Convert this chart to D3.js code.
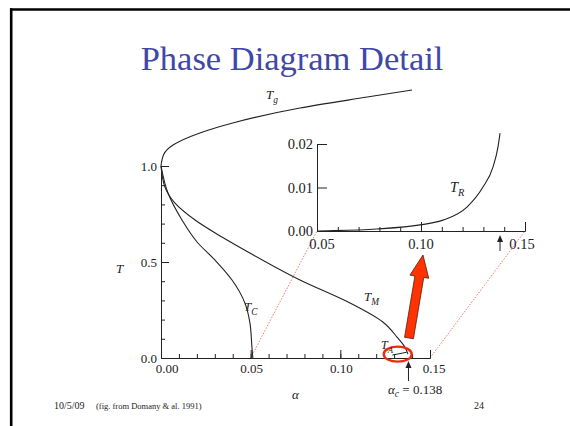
<!DOCTYPE html>
<html><head><meta charset="utf-8">
<script src="https://cdn.jsdelivr.net/npm/d3@7"></script>
<style>
html,body{margin:0;padding:0;background:#fff;}
svg{display:block;}
text{font-family:"Liberation Serif","Times New Roman",serif;fill:#222;}
</style></head>
<body>
<svg id="c" width="570" height="426"></svg>
<script>
// ---- data ----
const tgAlpha = [0, 0.0015, 0.0067, 0.0217, 0.040, 0.0775, 0.115, 0.140];
const tgT     = [1.0, 1.06, 1.109, 1.172, 1.224, 1.302, 1.359, 1.396];
const tcAlpha = [0, 0.0039, 0.0117, 0.0206, 0.0301, 0.0396, 0.0468, 0.0496, 0.0507, 0.0512];
const tcT     = [1.0, 0.859, 0.719, 0.599, 0.510, 0.406, 0.286, 0.182, 0.057, 0.0];
const tmAlpha = [0, 0.0022, 0.0078, 0.019, 0.034, 0.0485, 0.0775, 0.1054, 0.1237, 0.1316, 0.136, 0.1377];
const tmT     = [1.0, 0.89, 0.807, 0.719, 0.63, 0.552, 0.406, 0.286, 0.1875, 0.109, 0.057, 0.02];
const taAlpha = [0.129, 0.137];
const taT     = [0.015, 0.030];
const trAlpha = [0.05, 0.0548, 0.0788, 0.0995, 0.1106, 0.1221, 0.1298, 0.1346, 0.1370, 0.1380];
const trT     = [0.0, 0.00005, 0.00046, 0.0014, 0.0025, 0.0055, 0.0101, 0.0147, 0.0193, 0.0225];
const alphaC = 0.138;
const mainXTicks = [0, 0.05, 0.10, 0.15];
const mainXLabels = ["0.00", "0.05", "0.10", "0.15"];
const mainYTicks = [0, 0.5, 1.0];
const mainYLabels = ["0.0", "0.5", "1.0"];
const insetXTicks = [0.05, 0.10, 0.15];
const insetXLabels = ["0.05", "0.10", "0.15"];
const insetYTicks = [0, 0.01, 0.02];
const insetYLabels = ["0.00", "0.01", "0.02"];

const svg = d3.select("#c");
const zip = (a, b) => a.map((v, i) => [v, b[i]]);

// frame of slide
svg.append("line").attr("x1", 10).attr("x2", 570).attr("y1", 9.5).attr("y2", 9.5)
  .attr("stroke", "#000").attr("stroke-width", 2.6);
svg.append("line").attr("x1", 11.2).attr("x2", 11.2).attr("y1", 8.2).attr("y2", 426)
  .attr("stroke", "#000").attr("stroke-width", 2.6);

// title
svg.append("text").attr("x", 292).attr("y", 70).attr("text-anchor", "middle")
  .style("font-size", "34.5px").style("fill", "#3f48a8").text("Phase Diagram Detail");

// scales
const x = d3.scaleLinear([0, 0.15], [161, 430]);
const y = d3.scaleLinear([0, 1], [358, 166]);
const xi = d3.scaleLinear([0.05, 0.15], [317, 525]);
const yi = d3.scaleLinear([0, 0.02], [231, 144]);

const ink = "#222";

// red dotted connector lines (main -> inset)
[[0.05, 0.05], [0.15, 0.15]].forEach(([a, b]) => {
  svg.append("line").attr("x1", x(a)).attr("y1", y(0)).attr("x2", xi(b)).attr("y2", yi(0))
    .attr("stroke", "#f05050").attr("stroke-width", 0.8).attr("stroke-dasharray", "1.5,1.5");
});

// main axes
const gx = svg.append("g").attr("transform", `translate(0,${y(0)})`);
gx.call(d3.axisBottom(x).tickValues(d3.range(1, 15).map(i => i / 100)).tickSize(-4).tickFormat("").tickSizeOuter(0));
gx.append("g").call(d3.axisBottom(x).tickValues(mainXTicks.slice(1)).tickSize(-8).tickFormat("").tickSizeOuter(0));
gx.selectAll("path,line").attr("stroke", ink);
const gy = svg.append("g").attr("transform", `translate(${x(0)},0)`);
gy.call(d3.axisLeft(y).tickValues(d3.range(1, 10).map(i => i / 10)).tickSize(-4).tickFormat("").tickSizeOuter(0));
gy.append("g").call(d3.axisLeft(y).tickValues([0.5, 1.0]).tickSize(-8).tickFormat("").tickSizeOuter(0));
gy.selectAll("path,line").attr("stroke", ink);

const xLabOff = [6, 1, 1, 4];
mainXTicks.forEach((v, i) => {
  svg.append("text").attr("x", x(v) + xLabOff[i]).attr("y", 373).attr("text-anchor", "middle")
    .style("font-size", "13px").text(mainXLabels[i]);
});
mainYTicks.forEach((v, i) => {
  svg.append("text").attr("x", 157).attr("y", y(v) + 4.5).attr("text-anchor", "end")
    .style("font-size", "13px").text(mainYLabels[i]);
});

// curves (monotone in T, so use T as the spline parameter)
const lineY = d3.line().x(d => x(d[0])).y(d => y(d[1])).curve(d3.curveMonotoneY);
const tgPts = zip(tgAlpha, tgT).reverse();   // increasing screen y
[tgPts, zip(tcAlpha, tcT), zip(tmAlpha, tmT)].forEach(pts => {
  svg.append("path").attr("d", lineY(pts)).attr("fill", "none").attr("stroke", ink).attr("stroke-width", 1.1);
});
svg.append("path").attr("d", d3.line().x(d => x(d[0])).y(d => y(d[1]))(zip(taAlpha, taT)))
  .attr("fill", "none").attr("stroke", ink).attr("stroke-width", 1);

// inset axes
const gxi = svg.append("g").attr("transform", `translate(0,${yi(0)})`);
gxi.call(d3.axisBottom(xi).tickValues(d3.range(6, 15).filter(i => i !== 10).map(i => i / 100)).tickSize(-4).tickFormat("").tickSizeOuter(0));
gxi.append("g").call(d3.axisBottom(xi).tickValues([0.10, 0.15]).tickSize(-9).tickFormat("").tickSizeOuter(0));
gxi.selectAll("path,line").attr("stroke", ink);
const gyi = svg.append("g").attr("transform", `translate(${xi(0.05)},0)`);
gyi.call(d3.axisLeft(yi).tickValues([0.01, 0.02]).tickSize(-10).tickFormat("").tickSizeOuter(0));
gyi.selectAll("path,line").attr("stroke", ink);
const ixOff = [5, 0, -3];
insetXTicks.forEach((v, i) => {
  svg.append("text").attr("x", xi(v) + ixOff[i]).attr("y", 249).attr("text-anchor", "middle")
    .style("font-size", "14.5px").text(insetXLabels[i]);
});
insetYTicks.forEach((v, i) => {
  svg.append("text").attr("x", 313).attr("y", yi(v) + 5).attr("text-anchor", "end")
    .style("font-size", "14.5px").text(insetYLabels[i]);
});
const linei = d3.line().x(d => xi(d[0])).y(d => yi(d[1])).curve(d3.curveMonotoneX);
svg.append("path").attr("d", linei(zip(trAlpha, trT))).attr("fill", "none").attr("stroke", ink).attr("stroke-width", 1.1);

// alpha_c arrows
function upArrow(px, yTop, yBot) {
  svg.append("line").attr("x1", px).attr("x2", px).attr("y1", yTop + 5).attr("y2", yBot)
    .attr("stroke", ink).attr("stroke-width", 1);
  svg.append("path").attr("d", `M${px},${yTop} L${px - 3},${yTop + 7} L${px + 3},${yTop + 7} Z`).attr("fill", ink);
}
upArrow(x(alphaC), y(0) + 3, 381);
upArrow(xi(alphaC), yi(0) + 4, 251);

// red ellipse around T_A
svg.append("ellipse").attr("cx", x(0.132)).attr("cy", y(0.02)).attr("rx", 14).attr("ry", 7.5)
  .attr("fill", "none").attr("stroke", "#ee2a10").attr("stroke-width", 2.4);

// big red arrow
(function () {
  const x0 = 409, y0 = 338, x1 = 423, y1 = 255;
  const dx = x1 - x0, dy = y1 - y0, L = Math.hypot(dx, dy);
  const ux = dx / L, uy = dy / L, nx = -uy, ny = ux;
  const hl = 22, sw = 4.5, hw = 9.5;
  const bx = x1 - ux * hl, by = y1 - uy * hl;
  const pts = [
    [x0 + nx * sw, y0 + ny * sw], [bx + nx * sw, by + ny * sw], [bx + nx * hw, by + ny * hw],
    [x1, y1], [bx - nx * hw, by - ny * hw], [bx - nx * sw, by - ny * sw], [x0 - nx * sw, y0 - ny * sw]
  ];
  svg.append("path").attr("d", "M" + pts.map(p => p.join(",")).join("L") + "Z")
    .attr("fill", "#ff3300").attr("stroke", "#5a1a10").attr("stroke-width", 0.8);
})();

// curve labels
function sublabel(px, py, main, sub, size) {
  const t = svg.append("text").attr("x", px).attr("y", py).style("font-size", size + "px").style("font-style", "italic");
  t.append("tspan").text(main);
  t.append("tspan").attr("dy", size * 0.3).style("font-size", (size * 0.72) + "px").text(sub);
}
sublabel(266, 99, "T", "g", 13);
sublabel(244, 311, "T", "C", 13);
sublabel(364, 301, "T", "M", 13);
sublabel(450, 192, "T", "R", 14.5);
sublabel(381, 349, "T", "A", 12);
svg.append("text").attr("x", 116).attr("y", 273).style("font-size", "13px").style("font-style", "italic").text("T");

// axis labels / footer
svg.append("text").attr("x", 292).attr("y", 399).style("font-size", "13px").style("font-style", "italic").text("α");
const ac = svg.append("text").attr("x", 388).attr("y", 394).style("font-size", "13px");
ac.append("tspan").style("font-style", "italic").text("α");
ac.append("tspan").attr("dy", 3).style("font-size", "9.5px").style("font-style", "italic").text("c");
ac.append("tspan").attr("dy", -3).text(" = 0.138");
svg.append("text").attr("x", 54).attr("y", 409).style("font-size", "10px").text("10/5/09");
svg.append("text").attr("x", 96).attr("y", 409).style("font-size", "8.5px").text("(fig. from Domany & al. 1991)");
svg.append("text").attr("x", 474).attr("y", 409).style("font-size", "10px").text("24");
</script>
</body></html>
